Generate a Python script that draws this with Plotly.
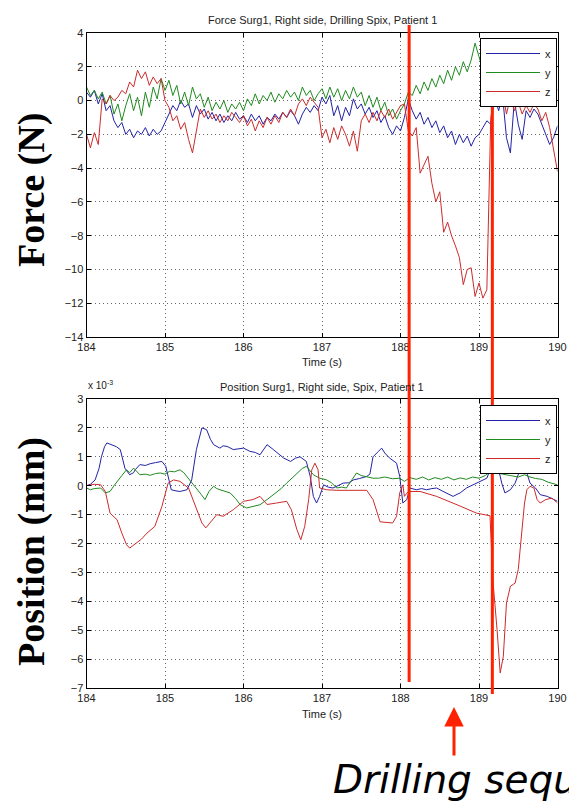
import plotly.graph_objects as go

# ---------------- data ----------------
force_t0, force_dt, force_n = 184.0, 0.05, 121
force_x = [0.5, 0.2, 0.6, -0.2, 0.4, -0.6, -0.3, -1.2, -1.6, -1.3,
           -2.0, -1.7, -2.2, -1.8, -2.0, -1.6, -2.1, -1.7, -2.0, -1.8,
           -1.3, -0.8, -0.3, -0.6, 0.0, -0.4, -0.2, -1.0, -0.3, -0.8,
           -0.5, -1.1, -0.7, -1.2, -0.8, -1.3, -0.9, -1.2, -0.7, -1.1,
           -0.9, -1.3, -0.8, -1.2, -0.9, -1.4, -1.0, -1.2, -0.8, -1.1,
           -0.7, -1.0, -0.6, -0.9, -1.4, -0.8, -0.4, -0.7, -0.3, -0.6,
           0.2, -0.2, 0.3, -0.9, -0.3, -1.2, -0.4, -0.9, 0.1, -0.5,
           -0.2, -0.8, -0.4, -1.0, -0.6, -1.3, -0.9, -1.6, -2.0, -1.5,
           -1.8, -1.0, 0.1, -0.6, -1.1, -0.7, -1.4, -1.0, -1.6, -1.2,
           -1.9, -1.5, -2.2, -1.8, -2.6, -2.0, -2.5, -2.1, -2.7, -2.2,
           -2.0, -1.6, -1.2, -1.4, 0.2, -0.6, 0.3, -2.2, -3.1, 0.0,
           -1.4, -2.3, -0.6, -1.0, -0.5, -0.8, -1.4, -2.1, -2.6, -2.2,
           -1.5]
force_y = [0.8, 0.3, 0.6, 0.1, 0.5, -0.2, 0.3, -0.8, -0.2, -1.2,
           -0.3, 0.4, -0.6, 0.2, -0.9, 0.5, -0.4, 0.8, 0.1, 1.3,
           0.6, 1.2, 0.3, 0.9, -0.2, 0.5, -0.3, 0.8, 0.1, 0.4,
           -0.4, 0.2, -0.6, -0.1, -0.5, 0.0, -0.7, -0.2, -0.5, -0.1,
           -0.6, 0.1, -0.3, 0.4, -0.2, 0.3, 0.0, 0.5, -0.1, 0.4,
           0.1, 0.6, 0.2, 0.5, 0.0, 0.8, 0.3, 0.6, 0.0, 0.4,
           0.7, 0.1, 0.8, 0.2, 0.7, 0.0, 0.6, 0.1, 0.8, 0.2,
           0.5, -0.3, 0.3, -0.4, 0.2, -0.6, -0.1, -0.9, -0.5, -1.1,
           -0.6, -0.2, 0.5, 0.3, 0.9, 0.4, 1.1, 0.6, 1.3, 0.8,
           1.5, 1.0, 1.8, 1.2, 2.0, 1.5, 2.3, 1.7, 2.4, 3.4,
           2.6, 1.8, 1.2, 0.9, 0.4, 0.9, 0.2, 0.8, -0.2, 0.6,
           -0.3, 0.5, 0.0, 0.6, -0.2, 0.5, 0.1, 0.7, 0.2, 1.0,
           0.6]
force_z = [-2.0, -2.8, -1.9, -2.6, 0.1, -0.2, 0.3, 0.0, 0.2, 0.6,
           0.4, 1.1, 0.8, 1.8, 1.3, 1.7, 0.9, 1.4, 1.0, 1.3,
           0.0, -0.4, -1.2, -0.9, -1.7, -1.3, -2.3, -3.1, -1.8, -0.5,
           -1.0, -0.6, -1.1, -0.8, -1.3, -0.9, -1.2, -0.7, -1.0, -1.3,
           -0.9, -1.5, -1.1, -1.8, -1.2, -1.6, -1.0, -1.4, -0.9, -1.3,
           -0.7, -1.0, -0.5, -0.9, -0.2, 0.1, -0.3, 0.2, -0.1, -0.4,
           -2.2, -1.7, -2.5, -1.6, -2.3, -1.5, -2.0, -2.7, -1.8, -3.0,
           -1.2, -0.8, -1.3, -0.7, -1.2, -0.6, -1.0, -0.5, -1.1, -0.7,
           -0.3, -0.2, -1.8, -2.1, -1.6, -4.3, -3.8, -3.3, -4.9, -6.0,
           -5.4, -7.8, -7.2, -8.0, -8.6, -9.3, -10.9, -10.0, -9.9, -11.6,
           -10.8, -11.7, -11.2, -1.0, 0.3, -0.2, 0.5, -0.8, 0.2, -0.6,
           -0.1, -0.8, -0.3, -0.7, -0.2, -0.5, -1.2, -0.7, -1.6, -2.8,
           -4.2]
force_t = [round(force_t0 + i * force_dt, 2) for i in range(force_n)]

# position values in units of 1e-3 (axis multiplier "x 10^-3")
pos_x_t = [184.00, 184.05, 184.11, 184.16, 184.19, 184.23, 184.26, 184.32, 184.38, 184.43,
           184.46, 184.49, 184.55, 184.60, 184.62, 184.68, 184.75, 184.81, 184.88, 184.96,
           185.01, 185.05, 185.08, 185.14, 185.19, 185.28, 185.34, 185.40, 185.44, 185.47,
           185.53, 185.58, 185.62, 185.70, 185.74, 185.79, 185.87, 185.94, 186.00, 186.08,
           186.15, 186.21, 186.26, 186.30, 186.38, 186.45, 186.51, 186.60, 186.66, 186.72,
           186.80, 186.85, 186.89, 186.93, 186.97, 187.02, 187.08, 187.14, 187.20, 187.27,
           187.34, 187.40, 187.48, 187.57, 187.61, 187.65, 187.72, 187.76, 187.80, 187.86,
           187.95, 187.99, 188.03, 188.08, 188.12, 188.20, 188.27, 188.33, 188.40, 188.46,
           188.53, 188.59, 188.67, 188.72, 188.76, 188.84, 188.90, 188.97, 189.03, 189.10,
           189.16, 189.20, 189.24, 189.29, 189.33, 189.40, 189.46, 189.52, 189.57, 189.61,
           189.65, 189.72, 189.78, 189.87, 189.95, 190.00]
pos_x = [0.0, 0.05, 0.2, 0.6, 1.0, 1.35, 1.48, 1.42, 1.35, 1.25,
         0.95, 0.6, 0.38, 0.45, 0.55, 0.73, 0.7, 0.76, 0.8, 0.84,
         0.67, 0.2, -0.14, -0.18, -0.2, -0.14, 0.2, 1.25, 1.7, 2.0,
         1.94, 1.6, 1.42, 1.3, 1.38, 1.36, 1.25, 1.28, 1.3, 1.19,
         1.15, 1.07, 1.25, 1.42, 1.25, 1.1, 0.96, 0.84, 0.95, 1.0,
         0.84, 0.32, -0.37, -0.6, -0.37, 0.03, -0.05, -0.08, 0.0, 0.09,
         0.1, 0.2, 0.25, 0.32, 0.4, 1.0, 1.19, 1.3, 1.13, 0.96,
         0.78, 0.32, -0.6, -0.48, -0.08, -0.14, -0.1, -0.14, -0.1, -0.08,
         -0.18, -0.25, -0.37, -0.3, -0.25, -0.08, 0.0, 0.09, 0.15, 0.26,
         0.67, 1.0, 0.67, 0.09, -0.25, -0.14, 0.09, 0.55, 0.9, 0.44,
         0.09, -0.08, -0.31, -0.37, -0.48, -0.54]

pos_y_t = [184.00, 184.05, 184.10, 184.18, 184.24, 184.30, 184.35, 184.39, 184.45, 184.51,
           184.55, 184.60, 184.68, 184.75, 184.81, 184.88, 184.94, 185.00, 185.06, 185.12,
           185.19, 185.24, 185.28, 185.34, 185.40, 185.46, 185.51, 185.56, 185.62, 185.66,
           185.70, 185.77, 185.83, 185.90, 185.96, 186.04, 186.12, 186.21, 186.30, 186.36,
           186.42, 186.48, 186.55, 186.62, 186.68, 186.75, 186.80, 186.89, 186.97, 187.06,
           187.12, 187.19, 187.25, 187.31, 187.38, 187.44, 187.50, 187.57, 187.65, 187.72,
           187.80, 187.90, 187.99, 188.05, 188.12, 188.20, 188.28, 188.36, 188.44, 188.52,
           188.60, 188.68, 188.76, 188.84, 188.92, 189.00, 189.08, 189.15, 189.22, 189.30,
           189.40, 189.50, 189.58, 189.65, 189.72, 189.80, 189.88, 189.95, 190.00]
pos_y = [-0.08, -0.14, -0.1, -0.08, -0.25, -0.2, 0.0, 0.15, 0.35, 0.55,
         0.45, 0.61, 0.38, 0.4, 0.36, 0.42, 0.44, 0.4, 0.5, 0.48,
         0.55, 0.45, 0.32, 0.1, -0.08, -0.3, -0.48, -0.2, -0.02, -0.1,
         -0.14, -0.2, -0.25, -0.45, -0.66, -0.77, -0.72, -0.66, -0.48, -0.35,
         -0.25, -0.1, 0.09, 0.28, 0.44, 0.6, 0.67, 0.38, 0.26, 0.2,
         0.1, -0.08, -0.05, -0.08, 0.2, 0.44, 0.35, 0.32, 0.26, 0.26,
         0.3, 0.24, 0.26, 0.15, 0.28, 0.22, 0.3, 0.2, 0.28, 0.22,
         0.3, 0.2, 0.27, 0.22, 0.3, 0.26, 0.35, 0.5, 0.45, 0.4,
         0.35, 0.3, 0.38, 0.3, 0.25, 0.22, 0.12, 0.06, 0.03]

pos_z_t = [184.00, 184.10, 184.18, 184.24, 184.30, 184.39, 184.45, 184.51, 184.55, 184.64,
           184.70, 184.77, 184.87, 184.96, 185.04, 185.11, 185.19, 185.30, 185.38, 185.47,
           185.52, 185.57, 185.66, 185.74, 185.87, 186.00, 186.12, 186.21, 186.30, 186.42,
           186.55, 186.61, 186.68, 186.73, 186.78, 186.83, 186.87, 186.91, 186.95, 186.97,
           187.06, 187.19, 187.40, 187.57, 187.65, 187.70, 187.74, 187.90, 187.95, 187.99,
           188.03, 188.05, 188.10, 188.25, 188.46, 188.72, 188.97, 189.14, 189.18, 189.23,
           189.27, 189.31, 189.35, 189.40, 189.46, 189.50, 189.55, 189.58, 189.61, 189.65,
           189.70, 189.74, 189.78, 189.85, 189.93, 190.00]
pos_z = [0.0, 0.05, 0.03, -0.2, -0.95, -1.18, -1.64, -2.04, -2.16, -1.98,
         -1.85, -1.64, -1.41, -0.72, 0.09, 0.2, 0.15, -0.08, -0.66, -1.29,
         -1.46, -1.29, -1.0, -1.06, -0.83, -0.54, -0.48, -0.37, -0.65, -0.6,
         -0.54, -0.83, -1.52, -1.87, -1.41, -0.48, 0.55, 0.78, 0.55, -0.08,
         -0.14, -0.16, -0.16, -0.16, -0.48, -0.95, -1.25, -1.29, -1.06, -0.25,
         0.03, -0.37, -0.2, -0.2, -0.37, -0.66, -0.95, -1.04, -3.37, -4.98,
         -6.48, -5.9, -4.06, -3.48, -3.37, -2.9, -1.52, -0.6, -0.14, -0.02,
         -0.08, -0.48, -0.6, -0.48, -0.43, -0.6]

series_names = ["x", "y", "z"]
series_colors = ["#2222a6", "#1f8a1f", "#cc2b2b"]
x_ticks = [184, 185, 186, 187, 188, 189, 190]
force_ticks = [-14, -12, -10, -8, -6, -4, -2, 0, 2, 4]
pos_ticks = [-7, -6, -5, -4, -3, -2, -1, 0, 1, 2, 3]
drill_marks = [188.11, 189.17]

# ---------------- figure ----------------
W, H = 569, 801
def px(v):
    return v / W
def py(v):
    return 1 - v / H

fig = go.Figure()
for name, vals, col in zip(series_names, [force_x, force_y, force_z], series_colors):
    fig.add_trace(go.Scatter(x=force_t, y=vals, mode="lines", name=name,
                             line=dict(color=col, width=1), xaxis="x", yaxis="y",
                             legend="legend"))
for name, tt, vals, col in zip(series_names, [pos_x_t, pos_y_t, pos_z_t],
                               [pos_x, pos_y, pos_z], series_colors):
    fig.add_trace(go.Scatter(x=tt, y=vals, mode="lines", name=name,
                             line=dict(color=col, width=1), xaxis="x2", yaxis="y2",
                             legend="legend2"))

tickfont = dict(family="Liberation Sans, Arial", size=11, color="#222")
axis_common = dict(showline=True, linecolor="black", linewidth=1, mirror="ticks",
                   ticks="inside", ticklen=4, tickcolor="black", showgrid=True,
                   gridcolor="#666", griddash="1px,3px", gridwidth=1, zeroline=False,
                   tickfont=tickfont, automargin=False)

legend_common = dict(xanchor="right", yanchor="top", bgcolor="white",
                     bordercolor="black", borderwidth=1, itemwidth=54,
                     font=dict(family="Liberation Sans, Arial", size=11, color="#222"),
                     tracegroupgap=0)

fig.update_layout(
    width=W, height=H, margin=dict(l=0, r=0, t=0, b=0, autoexpand=False),
    paper_bgcolor="white", plot_bgcolor="white",
    xaxis=dict(domain=[px(86.5), px(557.5)], range=[184, 190], tickvals=x_ticks,
               anchor="y", **axis_common),
    yaxis=dict(domain=[py(337), py(33)], range=[-14, 4], tickvals=force_ticks,
               anchor="x", **axis_common),
    xaxis2=dict(domain=[px(86.5), px(557.5)], range=[184, 190], tickvals=x_ticks,
                anchor="y2", **axis_common),
    yaxis2=dict(domain=[py(688), py(399)], range=[-7, 3], tickvals=pos_ticks,
                anchor="x2", **axis_common),
    legend=dict(x=px(557), y=py(38), **legend_common),
    legend2=dict(x=px(557), y=py(405), **legend_common),
)

small = dict(family="Liberation Sans, Arial", size=11, color="#222")
def label(text, x, y, **kw):
    d = dict(text=text, x=px(x), y=py(y), xref="paper", yref="paper",
             showarrow=False, xanchor="center", yanchor="middle", font=small)
    d.update(kw)
    return d

serif = dict(family="Liberation Serif, Times New Roman", size=38, color="black")
ann = [
    label("Force Surg1, Right side, Drilling Spix, Patient 1", 322, 20),
    label("Time (s)", 322, 362),
    label("Position Surg1, Right side, Spix, Patient 1", 322, 387),
    label("x 10<sup>-3</sup>", 86, 385, xanchor="left",
          font=dict(family="Liberation Sans, Arial", size=10, color="#222")),
    label("Time (s)", 322, 714),
    label("<b>Force (N)</b>", 31, 190, textangle=-90, font=serif),
    label("<b>Position (mm)</b>", 31, 552, textangle=-90, font=serif),
    dict(text="", x=px(454), y=py(707), xref="paper", yref="paper", ax=0, ay=50,
         showarrow=True, arrowhead=2, arrowsize=1.3, arrowwidth=3, arrowcolor="#ff2200"),
    label("<i>Drilling sequence</i>", 331, 779, xanchor="left",
          font=dict(family="DejaVu Sans", size=39, color="black")),
]
fig.update_layout(annotations=ann)

shapes = [
    dict(type="line", xref="x", yref="paper", x0=drill_marks[0], x1=drill_marks[0],
         y0=py(682), y1=py(25), line=dict(color="#ff2200", width=3), layer="above"),
    dict(type="line", xref="x", yref="paper", x0=drill_marks[1], x1=drill_marks[1],
         y0=py(694), y1=py(38), line=dict(color="#ff2200", width=3), layer="above"),
]
fig.update_layout(shapes=shapes)

fig.write_html("out.html")
